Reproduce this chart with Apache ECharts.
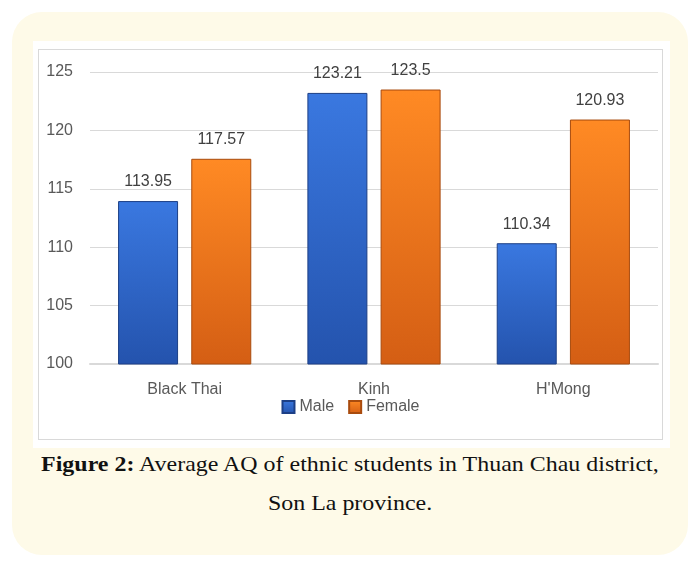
<!DOCTYPE html>
<html>
<head>
<meta charset="utf-8">
<script src="https://cdn.jsdelivr.net/npm/echarts@6/dist/echarts.min.js"></script>
<style>
    html, body { margin: 0; padding: 0; background: #ffffff; }
    body { width: 690px; height: 563px; position: relative; overflow: hidden; }
    .card {
        position: absolute; left: 12px; top: 12px; width: 676px; height: 543px;
        background: #fefae8; border-radius: 30px;
    }
    .panel {
        position: absolute; left: 33px; top: 41px; width: 637px; height: 407px;
        background: #ffffff;
    }
    #main {
        position: absolute; left: 38px; top: 49px; width: 623px; height: 389px;
        border: 1px solid #d9d9d9;
    }
    .caption {
        position: absolute; left: 12px; top: 445px; width: 676px;
        text-align: center; font-family: "Liberation Serif", serif;
        font-size: 21px; line-height: 39px; color: #111;
    }
    .caption span { display: inline-block; transform: scaleX(1.14); white-space: nowrap; }
</style>
</head>
<body>
<div class="card"></div>
<div class="panel"></div>
<div id="main"></div>
<div class="caption"><span><b>Figure 2:</b> Average AQ of ethnic students in Thuan Chau district,</span><br><span>Son La province.</span></div>
<script>
const groups = ['Black Thai', 'Kinh', "H'Mong"];
const male = [113.95, 123.21, 110.34];
const female = [117.57, 123.5, 120.93];

const textColor = '#595959';
const font = 'Liberation Sans';

function grad(top, bottom) {
    return {
        type: 'linear', x: 0, y: 0, x2: 0, y2: 1,
        colorStops: [
            { offset: 0, color: top },
            { offset: 1, color: bottom }
        ]
    };
}

function makeSeries(name, data, top, bottom, border) {
    return {
        name: name,
        type: 'bar',
        data: data,
        barWidth: 60,
        barGap: '22%',
        itemStyle: { color: grad(top, bottom), borderColor: border, borderWidth: 1 },
        label: {
            show: true,
            position: 'top',
            distance: 11,
            color: '#404040',
            fontFamily: font,
            fontSize: 16
        }
    };
}

const chart = echarts.init(document.getElementById('main'), null, { renderer: 'canvas' });
chart.setOption({
    animation: false,
    textStyle: { fontFamily: font },
    grid: { left: 51, right: 4, top: 22, bottom: 75, containLabel: false },
    legend: {
        data: ['Male', 'Female'],
        bottom: 19,
        itemWidth: 12,
        itemHeight: 12,
        itemGap: 14,
        icon: 'rect',
        textStyle: { color: textColor, fontSize: 16, fontFamily: font }
    },
    xAxis: {
        type: 'category',
        data: groups,
        axisTick: { show: false },
        axisLine: { lineStyle: { color: '#d9d9d9', width: 2 } },
        axisLabel: { color: textColor, fontSize: 16, fontFamily: font, margin: 18 }
    },
    yAxis: {
        type: 'value',
        min: 100,
        max: 125,
        interval: 5,
        axisLine: { show: false },
        axisTick: { show: false },
        splitLine: { lineStyle: { color: '#d9d9d9', width: 1 } },
        axisLabel: { color: textColor, fontSize: 16, fontFamily: font, margin: 17 }
    },
    series: [
        makeSeries('Male', male, '#3a78e0', '#2453ad', '#1c3f86'),
        makeSeries('Female', female, '#ff8a24', '#d45e14', '#a84b0e')
    ]
});
</script>
</body>
</html>
